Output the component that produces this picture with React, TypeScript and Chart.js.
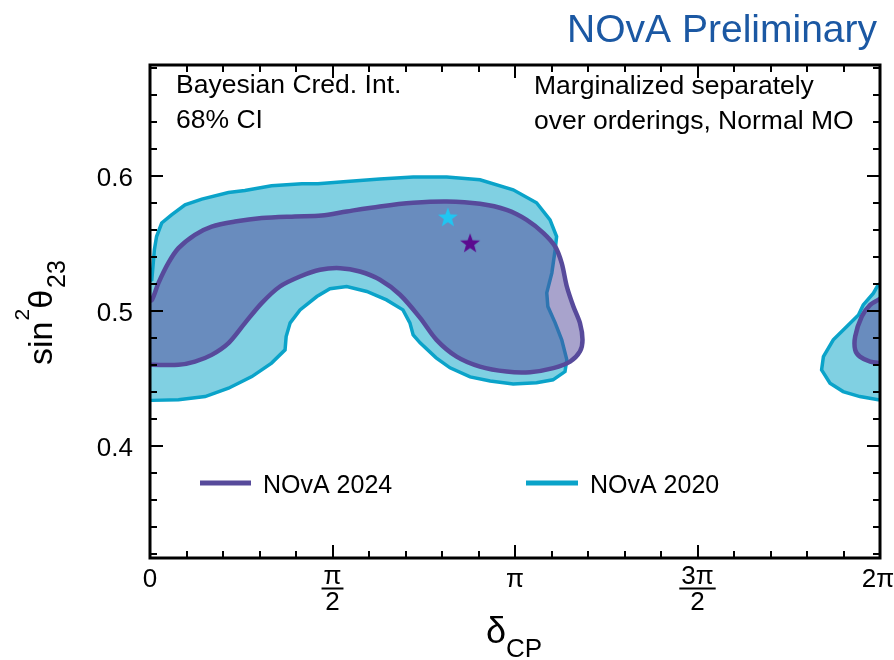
import React, { useEffect, useRef } from "react";
import { Chart, registerables } from "chart.js";

Chart.register(...registerables);

// δCP in units of π ; sin²θ23
const nova2020MainDelta = [-0.005, 0.005, 0.012, 0.018, 0.032, 0.059, 0.096, 0.142, 0.215, 0.26, 0.333, 0.416, 0.46, 0.539, 0.63, 0.721, 0.813, 0.904, 0.995, 1.059, 1.096, 1.114, 1.11, 1.101, 1.087, 1.09, 1.11, 1.128, 1.142, 1.137, 1.104, 1.059, 0.995, 0.932, 0.877, 0.822, 0.784, 0.74, 0.721, 0.712, 0.693, 0.648, 0.594, 0.539, 0.493, 0.457, 0.411, 0.384, 0.373, 0.37, 0.333, 0.279, 0.215, 0.151, 0.078, 0.005, -0.005, -0.005];
const nova2020MainSin2 = [0.5215, 0.523, 0.5452, 0.555, 0.565, 0.5711, 0.5785, 0.5827, 0.5876, 0.5891, 0.5926, 0.5941, 0.5941, 0.5958, 0.5976, 0.599, 0.599, 0.597, 0.5896, 0.58, 0.5674, 0.555, 0.5452, 0.5281, 0.5133, 0.5032, 0.4911, 0.4785, 0.4637, 0.455, 0.4489, 0.4467, 0.4459, 0.4481, 0.4511, 0.4578, 0.4652, 0.4763, 0.4822, 0.4911, 0.5007, 0.5081, 0.5143, 0.518, 0.5163, 0.5106, 0.5007, 0.4911, 0.481, 0.4711, 0.4613, 0.4513, 0.4427, 0.4365, 0.4341, 0.4337, 0.4337, 0.5215];

const nova2020RightDelta = [2.005, 1.995, 1.982, 1.954, 1.941, 1.909, 1.872, 1.845, 1.84, 1.863, 1.899, 1.945, 1.995, 2.005, 2.005];
const nova2020RightSin2 = [0.5207, 0.5193, 0.5131, 0.5044, 0.497, 0.4884, 0.4785, 0.4661, 0.4563, 0.4464, 0.4402, 0.4365, 0.4341, 0.4341, 0.5207];

const nova2024MainDelta = [-0.005, 0.005, 0.023, 0.05, 0.078, 0.123, 0.169, 0.233, 0.306, 0.397, 0.47, 0.539, 0.63, 0.721, 0.813, 0.904, 0.977, 1.032, 1.078, 1.11, 1.128, 1.142, 1.16, 1.178, 1.185, 1.178, 1.151, 1.105, 1.041, 0.977, 0.904, 0.84, 0.785, 0.74, 0.685, 0.63, 0.575, 0.521, 0.466, 0.411, 0.356, 0.306, 0.26, 0.215, 0.169, 0.123, 0.078, 0.005, -0.005, -0.005];
const nova2024MainSin2 = [0.5074, 0.508, 0.5205, 0.5353, 0.5464, 0.5563, 0.5624, 0.5661, 0.5687, 0.5699, 0.5706, 0.5736, 0.5773, 0.58, 0.581, 0.5793, 0.5748, 0.5674, 0.5576, 0.5476, 0.5353, 0.518, 0.5032, 0.4909, 0.4785, 0.4699, 0.4624, 0.4576, 0.4546, 0.455, 0.4587, 0.4661, 0.4785, 0.4948, 0.5119, 0.523, 0.5291, 0.5316, 0.5304, 0.5254, 0.518, 0.5057, 0.4909, 0.4761, 0.4674, 0.4624, 0.46, 0.46, 0.46, 0.5074];

const nova2024RightDelta = [2.005, 1.995, 1.973, 1.95, 1.932, 1.932, 1.945, 1.973, 2.0, 2.005, 2.005];
const nova2024RightSin2 = [0.5096, 0.5081, 0.5044, 0.4958, 0.481, 0.4711, 0.4661, 0.4624, 0.4613, 0.4613, 0.5096];

const bestFit2024 = [0.877, 0.5504];
const bestFit2020 = [0.816, 0.5696];

const xTickValues = [0, 0.5, 1, 1.5, 2];
const xTickNumerators = ["0", "π", "π", "3π", "2π"];
const xTickDenominators = ["", "2", "", "2", ""];
const yTickValues = [0.4, 0.5, 0.6];
const yTickLabels = ["0.4", "0.5", "0.6"];
const legendLabels = ["NOvA 2024", "NOvA 2020"];
const titleText = "NOvA Preliminary";
const noteLeft = ["Bayesian Cred. Int.", "68% CI"];
const noteRight = ["Marginalized separately", "over orderings, Normal MO"];

const FONT = '"Liberation Sans", Arial, Helvetica, sans-serif';
const C2024_LINE = "#574a9b";
const C2024_FILL = "rgba(82,72,154,0.5)";
const C2020_LINE = "#0aa3c9";
const C2020_FILL = "#80d0e2";

function pts(xs: number[], ys: number[]) {
  return xs.map((x, i) => ({ x, y: ys[i] }));
}

function makeStar(color: string) {
  const size = 24;
  const c = document.createElement("canvas");
  c.width = size;
  c.height = size;
  const g = c.getContext("2d")!;
  g.beginPath();
  for (let i = 0; i < 10; i++) {
    const ang = -Math.PI / 2 + (i * Math.PI) / 5;
    const rad = i % 2 === 0 ? 10.5 : 4.3;
    g.lineTo(size / 2 + rad * Math.cos(ang), size / 2 + 1 + rad * Math.sin(ang));
  }
  g.closePath();
  g.fillStyle = color;
  g.fill();
  return c;
}

const overlay = {
  id: "overlay",
  afterDraw(chart: any) {
    const { ctx, chartArea: a, scales } = chart;
    const xs = scales.x;
    const ys = scales.y;
    ctx.save();
    ctx.strokeStyle = "#000";
    ctx.fillStyle = "#000";
    const seg = (x1: number, y1: number, x2: number, y2: number) => {
      ctx.beginPath();
      ctx.moveTo(x1, y1);
      ctx.lineTo(x2, y2);
      ctx.stroke();
    };
    // ticks
    ctx.lineWidth = 2;
    for (let i = 0; i <= 20; i++) {
      const px = Math.round(xs.getPixelForValue(i * 0.1));
      const L = i % 5 === 0 ? 13 : 7;
      seg(px, a.bottom, px, a.bottom - L);
      seg(px, a.top, px, a.top + L);
    }
    for (let i = 16; i <= 34; i++) {
      const py = Math.round(ys.getPixelForValue(i * 0.02));
      const L = i % 5 === 0 ? 13 : 7;
      seg(a.left, py, a.left + L, py);
      seg(a.right, py, a.right - L, py);
    }
    // frame
    ctx.lineWidth = 3;
    ctx.strokeRect(a.left, a.top, a.right - a.left, a.bottom - a.top);

    // y tick labels
    ctx.font = `26px ${FONT}`;
    ctx.textAlign = "right";
    ctx.textBaseline = "alphabetic";
    yTickValues.forEach((v, i) => {
      ctx.fillText(yTickLabels[i], 133, ys.getPixelForValue(v) + 10);
    });
    // x tick labels
    ctx.textAlign = "center";
    xTickValues.forEach((v, i) => {
      let px = xs.getPixelForValue(v);
      if (i === xTickValues.length - 1) px -= 2;
      const num = xTickNumerators[i];
      const den = xTickDenominators[i];
      if (!den) {
        ctx.fillText(num, px, 587);
      } else {
        ctx.fillText(num, px, 584);
        const w = ctx.measureText(num).width + 4;
        ctx.lineWidth = 2;
        seg(px - w / 2, 588.5, px + w / 2, 588.5);
        ctx.fillText(den, px, 610);
      }
    });

    // x title δCP
    ctx.textAlign = "left";
    ctx.font = `36px ${FONT}`;
    ctx.fillText("δ", 486, 643);
    const dw = ctx.measureText("δ").width;
    ctx.font = `26px ${FONT}`;
    ctx.fillText("CP", 486 + dw, 657);

    // y title sin²θ23
    ctx.save();
    ctx.translate(52, 365);
    ctx.rotate(-Math.PI / 2);
    ctx.font = `34px ${FONT}`;
    ctx.fillText("sin", 0, 0);
    let off = ctx.measureText("sin").width + 1;
    ctx.font = `21px ${FONT}`;
    ctx.fillText("2", off, -23);
    off += ctx.measureText("2").width;
    ctx.font = `34px ${FONT}`;
    ctx.fillText("θ", off, 0);
    off += ctx.measureText("θ").width + 2;
    ctx.font = `25px ${FONT}`;
    ctx.fillText("23", off, 13);
    ctx.restore();

    // title
    ctx.font = `39px ${FONT}`;
    ctx.fillStyle = "#1b58a3";
    ctx.textAlign = "right";
    ctx.fillText(titleText, 877, 42);

    // notes
    ctx.fillStyle = "#000";
    ctx.textAlign = "left";
    ctx.font = `26.5px ${FONT}`;
    ctx.fillText(noteLeft[0], 176, 93);
    ctx.fillText(noteLeft[1], 176, 128);
    ctx.fillText(noteRight[0], 534, 94);
    ctx.fillText(noteRight[1], 534, 129);

    // legend
    ctx.lineWidth = 5;
    ctx.strokeStyle = C2024_LINE;
    seg(200, 483, 251, 483);
    ctx.strokeStyle = C2020_LINE;
    seg(526, 483, 578, 483);
    ctx.font = `25px ${FONT}`;
    ctx.fillText(legendLabels[0], 263, 493);
    ctx.fillText(legendLabels[1], 590, 493);
    ctx.restore();
  },
};

export default function App() {
  const ref = useRef<HTMLCanvasElement>(null);
  useEffect(() => {
    if (!ref.current) return;
    const contour = (data: any[], line: string, fill: string, width: number, tension: number, order: number) => ({
      data,
      borderColor: line,
      backgroundColor: fill,
      borderWidth: width,
      fill: "shape",
      tension,
      pointRadius: 0,
      pointHoverRadius: 0,
      order,
      clip: 0,
    });
    const chart = new Chart(ref.current, {
      type: "line",
      data: {
        datasets: [
          {
            data: [{ x: bestFit2024[0], y: bestFit2024[1] }],
            showLine: false,
            pointStyle: makeStar("#5b0a8f") as any,
            pointRadius: 10,
            order: 0,
          } as any,
          {
            data: [{ x: bestFit2020[0], y: bestFit2020[1] }],
            showLine: false,
            pointStyle: makeStar("#1fc6f2") as any,
            pointRadius: 10,
            order: 0,
          } as any,
          contour(pts(nova2024MainDelta, nova2024MainSin2), C2024_LINE, C2024_FILL, 4.5, 0.3, 1),
          contour(pts(nova2024RightDelta, nova2024RightSin2), C2024_LINE, C2024_FILL, 4.5, 0.3, 1),
          contour(pts(nova2020MainDelta, nova2020MainSin2), C2020_LINE, C2020_FILL, 3.5, 0, 2),
          contour(pts(nova2020RightDelta, nova2020RightSin2), C2020_LINE, C2020_FILL, 3.5, 0, 2),
        ],
      },
      options: {
        animation: false,
        responsive: false,
        events: [],
        layout: { padding: { left: 150, top: 65, right: 14, bottom: 102 } },
        scales: {
          x: { type: "linear", min: 0, max: 2, display: false },
          y: { type: "linear", min: 0.317, max: 0.682, display: false },
        },
        plugins: {
          legend: { display: false },
          tooltip: { enabled: false },
        },
      },
      plugins: [overlay],
    } as any);
    return () => chart.destroy();
  }, []);
  return (
    <div style={{ position: "absolute", left: 0, top: 0, width: 894, height: 660, background: "#fff" }}>
      <canvas ref={ref} width={894} height={660} style={{ display: "block" }} />
    </div>
  );
}
